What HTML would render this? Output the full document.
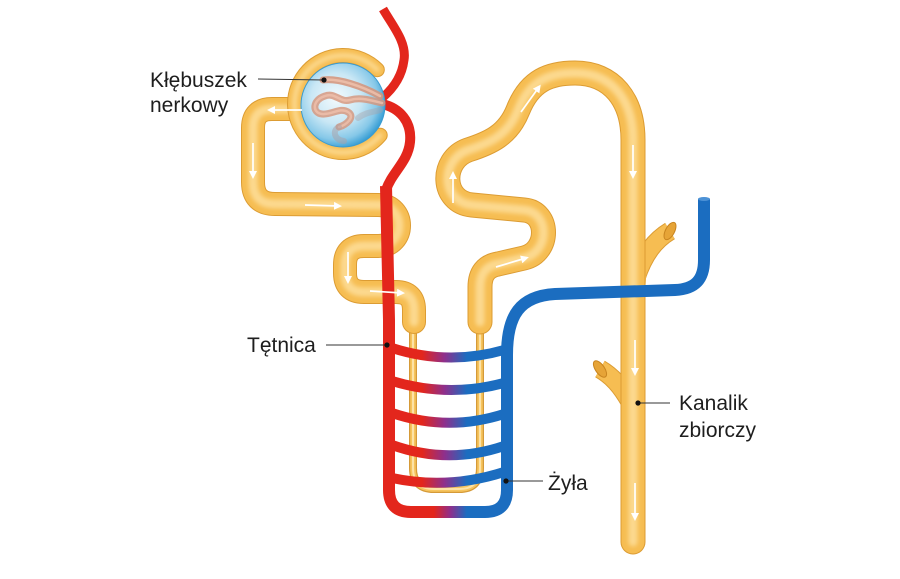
<!DOCTYPE html>
<html><head><meta charset="utf-8">
<style>
html,body{margin:0;padding:0;background:#fff;}
svg{display:block;}
text{font-family:"Liberation Sans",Arial,sans-serif;font-size:21px;fill:#1e1e1e;}
</style></head>
<body>
<svg width="900" height="579" viewBox="0 0 900 579" xmlns="http://www.w3.org/2000/svg">
<defs>
  <filter id="bl" x="-20%" y="-20%" width="140%" height="140%"><feGaussianBlur stdDeviation="2"/></filter>
  <linearGradient id="rb" gradientUnits="userSpaceOnUse" x1="389" y1="0" x2="507" y2="0">
    <stop offset="0" stop-color="#e3261c"/>
    <stop offset="0.28" stop-color="#e3261c"/>
    <stop offset="0.47" stop-color="#8e2f8c"/>
    <stop offset="0.66" stop-color="#1b6dc0"/>
    <stop offset="1" stop-color="#1b6dc0"/>
  </linearGradient>
  <linearGradient id="rbU" gradientUnits="userSpaceOnUse" x1="389" y1="0" x2="507" y2="0">
    <stop offset="0" stop-color="#e3261c"/>
    <stop offset="0.38" stop-color="#e3261c"/>
    <stop offset="0.52" stop-color="#8e2f8c"/>
    <stop offset="0.66" stop-color="#1b6dc0"/>
    <stop offset="1" stop-color="#1b6dc0"/>
  </linearGradient>
  <radialGradient id="sph" cx="0.42" cy="0.42" r="0.6">
    <stop offset="0" stop-color="#f3fafd"/>
    <stop offset="0.5" stop-color="#c9e7f5"/>
    <stop offset="0.82" stop-color="#86c8e8"/>
    <stop offset="1" stop-color="#3a9fd5"/>
  </radialGradient>
  <marker id="ah" markerWidth="8" markerHeight="8" refX="5" refY="4" orient="auto" markerUnits="userSpaceOnUse">
    <path d="M0,0 L8,4 L0,8 z" fill="#fff"/>
  </marker>

  <path id="prox" d="M 300 109 L 272 109 Q 253 109 253 128 L 253 182 Q 253 204 275 204 L 378 205 C 406 205 406 246 378 246 L 364 246 Q 345 246 345 265 L 345 273 Q 345 292 364 292 L 396 292 Q 414 292 414 310 L 414 322"/>
  <path id="dist" d="M 480 322 L 480 287 Q 480 267 498 264 L 524 258 C 550 252 550 212 524 210 L 472 205 C 441 202 440 160 468 150 C 490 143 508 135 518 110 C 530 80 550 73 575 73 C 612 73 633 100 633 140 L 633 542"/>
  <path id="caps" d="M 377.3 69.7 A 48.5 48.5 0 1 0 380.2 135.2"/>
  <path id="thin" d="M 413 322 L 413 468 Q 413 489 434 489 L 459 489 Q 480 489 480 468 L 480 322"/>
  <path id="br1" d="M 636 278 C 644 254 655 240 670 231"/>
  <path id="br2" d="M 630 402 C 621 386 612 376 600 369"/>
</defs>

<!-- thin loop of Henle -->
<g fill="none" stroke-linecap="round" stroke-linejoin="round">
  <use href="#thin" stroke="#d59a38" stroke-width="8"/>
  <use href="#thin" stroke="#f6c45e" stroke-width="5.5"/>
  <use href="#thin" stroke="#fde3a6" stroke-width="2"/>
</g>

<!-- branches of collecting duct -->
<g fill="none" stroke-linecap="butt">
  <use href="#br1" stroke="#dc9c33" stroke-width="19"/>
  <use href="#br2" stroke="#dc9c33" stroke-width="19"/>
  <use href="#br1" stroke="#f6bd52" stroke-width="17"/>
  <use href="#br2" stroke="#f6bd52" stroke-width="17"/>
</g>
<path d="M 644 250 C 648 264 646 278 645 292 L 636 292 L 636 250 Z" fill="#f6bd52"/>
<path d="M 622 370 C 619 382 620 396 622 410 L 630 410 L 630 370 Z" fill="#f6bd52"/>

<!-- thick tubules -->
<g fill="none" stroke-linecap="round" stroke-linejoin="round">
  <use href="#prox" stroke="#dc9c33" stroke-width="24"/>
  <use href="#prox" stroke="#f6bd52" stroke-width="22"/>
  <use href="#prox" stroke="#fcd98f" stroke-width="9" filter="url(#bl)"/>

  <use href="#dist" stroke="#dc9c33" stroke-width="25"/>
  <use href="#dist" stroke="#f6bd52" stroke-width="23"/>
  <use href="#dist" stroke="#fcd98f" stroke-width="9" filter="url(#bl)"/>
</g>
<!-- branch open ends -->
<ellipse cx="670" cy="231" rx="4.5" ry="9.5" transform="rotate(28 670 231)" fill="#e6a437" stroke="#c98520" stroke-width="1"/>
<ellipse cx="600" cy="369" rx="4.5" ry="9.5" transform="rotate(-35 600 369)" fill="#e6a437" stroke="#c98520" stroke-width="1"/>

<!-- Bowman's capsule -->
<g fill="none" stroke-linecap="round">
  <use href="#caps" stroke="#dc9c33" stroke-width="15"/>
  <use href="#caps" stroke="#f6bd52" stroke-width="13"/>
  <use href="#caps" stroke="#fcd98f" stroke-width="5" filter="url(#bl)"/>
</g>

<!-- vasa recta U + vein -->
<path d="M 386 186 L 389 320 L 389 490 Q 389 512 411 512 L 485 512 Q 507 512 507 490 L 507 355 C 507 315 520 296 555 294 L 675 290 C 695 289 704 280 704 260 L 704 199" fill="none" stroke="url(#rbU)" stroke-width="12" stroke-linejoin="round"/>
<ellipse cx="704" cy="199" rx="6" ry="2" fill="#4d92d6"/>

<!-- rungs -->
<g fill="none" stroke="url(#rb)" stroke-width="10">
  <path d="M 392 348 Q 448 366 504 350"/>
  <path d="M 392 381 Q 448 398 504 383"/>
  <path d="M 392 413 Q 448 432 504 414"/>
  <path d="M 392 445 Q 448 465 504 446"/>
  <path d="M 392 478 Q 448 490 504 472"/>
</g>

<!-- afferent / efferent arteries -->
<g fill="none" stroke="#e3261c" stroke-linecap="butt">
  <path d="M 383 9 C 392 25 407 42 404 60 C 402 76 394 88 382 98" stroke-width="9"/>
  <path d="M 382 104 C 400 108 412 122 410 142 C 408 162 392 172 386 190" stroke-width="10"/>
</g>

<!-- glomerulus sphere -->
<circle cx="343" cy="105" r="42" fill="url(#sph)" stroke="#3a9bd0" stroke-width="1"/>
<g fill="none" stroke-linecap="round" stroke-linejoin="round">
  <path d="M 323 80 C 338 78 362 86 380 96" stroke="#d69379" stroke-width="7" opacity="0.85"/>
  <path d="M 323 80 C 338 78 362 86 380 96" stroke="#efc1ac" stroke-width="2.5" opacity="0.85"/>
  <path d="M 382 103 C 370 100 360 97 350 100 C 340 103 335 92 325 96 C 312 100 312 113 322 114 C 332 115 340 107 348 112 C 356 117 346 125 339 127" stroke="#d69379" stroke-width="7" opacity="0.8"/>
  <path d="M 382 103 C 370 100 360 97 350 100 C 340 103 335 92 325 96 C 312 100 312 113 322 114 C 332 115 340 107 348 112 C 356 117 346 125 339 127" stroke="#efc1ac" stroke-width="2.5" opacity="0.8"/>
  <path d="M 339 127 C 332 130 334 140 344 141" stroke="#a9a0a6" stroke-width="6" opacity="0.5"/>
  <path d="M 358 118 C 366 112 374 112 380 110" stroke="#a9a0a6" stroke-width="6" opacity="0.4"/>
</g>

<!-- white flow arrows -->
<g stroke="#fff" stroke-width="1.7" fill="none" marker-end="url(#ah)">
  <line x1="302" y1="110" x2="270" y2="110"/>
  <line x1="253" y1="143" x2="253" y2="176"/>
  <line x1="305" y1="205" x2="339" y2="206"/>
  <line x1="348" y1="252" x2="348" y2="281"/>
  <line x1="370" y1="291" x2="402" y2="293"/>
  <line x1="453" y1="203" x2="453" y2="174"/>
  <line x1="496" y1="267" x2="526" y2="258"/>
  <line x1="521" y1="112" x2="539" y2="87"/>
  <line x1="633" y1="145" x2="633" y2="176"/>
  <line x1="635" y1="340" x2="635" y2="373"/>
  <line x1="635" y1="483" x2="635" y2="518"/>
</g>

<!-- leader lines and dots -->
<g stroke="#333" stroke-width="1.1">
  <line x1="258" y1="79" x2="324" y2="80"/>
  <line x1="326" y1="345" x2="387" y2="345"/>
  <line x1="506" y1="481" x2="543" y2="481"/>
  <line x1="638" y1="403" x2="670" y2="403"/>
</g>
<g fill="#111">
  <circle cx="324" cy="80" r="2.6"/>
  <circle cx="387" cy="345" r="2.6"/>
  <circle cx="506" cy="481" r="2.6"/>
  <circle cx="638" cy="403" r="2.6"/>
</g>

<!-- labels -->
<text x="150" y="87">Kłębuszek</text>
<text x="150" y="112">nerkowy</text>
<text x="247" y="352">Tętnica</text>
<text x="548" y="490">Żyła</text>
<text x="679" y="410">Kanalik</text>
<text x="679" y="437">zbiorczy</text>
</svg>
</body></html>
